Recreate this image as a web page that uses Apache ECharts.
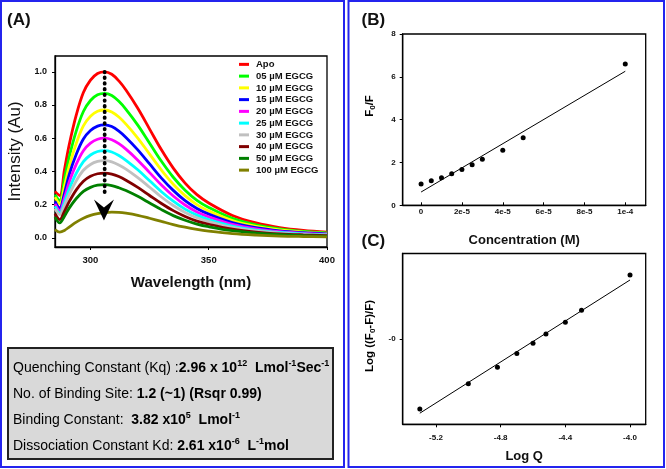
<!DOCTYPE html>
<html><head><meta charset="utf-8">
<script src="https://cdn.jsdelivr.net/npm/echarts@6/dist/echarts.min.js"></script>
<style>html,body{margin:0;padding:0;background:#fff}#c{width:666px;height:469px}</style>
</head><body><div id="c"></div>
<script>
// ---------- Panel A data ----------
const wavelengths = [285,287,289,291,294,297,300,303,306,309,312,315,320,325,330,335,340,345,350,360,370,380,390,400];
const seriesNames = ['Apo','05 µM EGCG','10 µM EGCG','15 µM EGCG','20 µM EGCG','25 µM EGCG','30 µM EGCG','40 µM EGCG','50 µM EGCG','100 µM EGCG'];
const seriesColors = ['#ff0000','#00ff00','#ffff00','#0000ff','#ff00ff','#00ffff','#c0c0c0','#800000','#008000','#808000'];
const apo      = [0.28,0.255,0.41,0.56,0.74,0.875,0.95,0.99,1.0,0.985,0.945,0.89,0.78,0.655,0.53,0.42,0.33,0.26,0.21,0.135,0.09,0.062,0.045,0.035];
const egcg05   = [0.26,0.225,0.355,0.487,0.644,0.761,0.827,0.861,0.87,0.857,0.822,0.774,0.679,0.570,0.461,0.365,0.287,0.226,0.183,0.117,0.078,0.054,0.039,0.030];
const egcg10   = [0.245,0.205,0.31,0.431,0.570,0.674,0.732,0.762,0.77,0.758,0.728,0.685,0.601,0.504,0.408,0.323,0.254,0.200,0.162,0.104,0.069,0.048,0.035,0.027];
const egcg15   = [0.22,0.18,0.27,0.381,0.503,0.595,0.646,0.673,0.68,0.670,0.643,0.605,0.530,0.445,0.360,0.286,0.224,0.177,0.143,0.092,0.061,0.042,0.031,0.024];
const egcg20   = [0.205,0.165,0.24,0.336,0.444,0.525,0.570,0.594,0.60,0.591,0.567,0.534,0.468,0.393,0.318,0.252,0.198,0.156,0.126,0.081,0.054,0.037,0.027,0.021];
const egcg25   = [0.19,0.15,0.215,0.294,0.389,0.459,0.499,0.520,0.525,0.517,0.496,0.467,0.410,0.344,0.278,0.221,0.173,0.137,0.110,0.071,0.047,0.033,0.024,0.018];
const egcg30   = [0.175,0.14,0.195,0.26,0.344,0.407,0.442,0.460,0.465,0.458,0.439,0.414,0.363,0.305,0.246,0.195,0.153,0.121,0.098,0.063,0.042,0.029,0.021,0.016];
const egcg40   = [0.145,0.11,0.16,0.218,0.289,0.341,0.371,0.386,0.39,0.384,0.369,0.347,0.304,0.255,0.207,0.164,0.129,0.101,0.082,0.053,0.035,0.024,0.018,0.014];
const egcg50   = [0.125,0.09,0.13,0.179,0.237,0.280,0.304,0.317,0.32,0.315,0.302,0.285,0.250,0.210,0.170,0.134,0.106,0.083,0.067,0.043,0.029,0.020,0.014,0.011];
const egcg100  = [0.05,0.035,0.045,0.065,0.095,0.118,0.135,0.146,0.152,0.155,0.154,0.149,0.136,0.118,0.099,0.080,0.064,0.051,0.041,0.026,0.017,0.011,0.008,0.006];
const intensitySeries = [apo,egcg05,egcg10,egcg15,egcg20,egcg25,egcg30,egcg40,egcg50,egcg100];
const arrowLine = [[306,1.0],[306,0.245]];
const arrowHead = [[305.7,0.168]];
const tickA_x = [300,350,400];
const tickA_y = [0,0.2,0.4,0.6,0.8,1.0];
const labelA_y = ['0.0','0.2','0.4','0.6','0.8','1.0'];

// ---------- Panel B data ----------
const concentrationM = [0,5e-6,1e-5,1.5e-5,2e-5,2.5e-5,3e-5,4e-5,5e-5,1e-4];
const f0OverF = [1.0,1.15,1.29,1.47,1.67,1.89,2.15,2.57,3.16,6.6];
const fitB_x = [0,1e-4];
const fitB_y = [0.62,6.26];
const tickB_x = [0,2e-5,4e-5,6e-5,8e-5,1e-4];
const labelB_x = ['0','2e-5','4e-5','6e-5','8e-5','1e-4'];
const tickB_y = [0,2,4,6,8];

// ---------- Panel C data ----------
const logQ = [-5.30,-5.00,-4.82,-4.70,-4.60,-4.52,-4.40,-4.30,-4.00];
const logRatio = [-0.822,-0.526,-0.331,-0.171,-0.051,0.058,0.195,0.335,0.748];
const fitC_x = [-5.3,-4.0];
const fitC_y = [-0.87,0.69];
const tickC_x = [-5.2,-4.8,-4.4,-4.0];
const labelC_x = ['-5.2','-4.8','-4.4','-4.0'];
const tickC_y = [0];
const labelC_y = ['-0'];

const FONT = 'Liberation Sans, Arial, sans-serif';
function lookup(ticks, labels){
  return function(v){ const i = ticks.findIndex(t => Math.abs(t - v) < 1e-9 * Math.max(1e-4, Math.abs(t))); return i >= 0 ? labels[i] : ''; };
}
function axisBase(extra){
  return Object.assign({
    type:'value', splitLine:{show:false},
    axisLine:{show:true, onZero:false, lineStyle:{color:'#000', width:1.3}},
    axisTick:{show:true, length:3, lineStyle:{color:'#000'}},
    axisLabel:{fontFamily:FONT, fontWeight:'bold', fontSize:8, color:'#111'}
  }, extra);
}

const series = [];
intensitySeries.forEach((arr, k) => {
  series.push({
    type:'line', name:seriesNames[k], xAxisIndex:0, yAxisIndex:0,
    data: wavelengths.map((w,i)=>[w, arr[i]]),
    smooth:0.35, showSymbol:false, symbol:'none', color:seriesColors[k],
    lineStyle:{width:2.8, color:seriesColors[k]}, z:2
  });
});
series.push({type:'line', xAxisIndex:0, yAxisIndex:0, data:arrowLine, symbol:'none', silent:true,
  lineStyle:{color:'#000', width:3.8, type:[0.5,5.2], cap:'round'}, z:5});
series.push({type:'scatter', xAxisIndex:0, yAxisIndex:0, data:arrowHead, silent:true,
  symbol:'path://M0,0 L10,8 L20,0 L10,21 Z', symbolSize:[20,21], itemStyle:{color:'#000', opacity:1}, z:6});
// Panel B
series.push({type:'line', xAxisIndex:1, yAxisIndex:1, data:fitB_x.map((x,i)=>[x,fitB_y[i]]), symbol:'none',
  lineStyle:{color:'#000', width:1}, z:3});
series.push({type:'scatter', xAxisIndex:1, yAxisIndex:1, data:concentrationM.map((x,i)=>[x,f0OverF[i]]),
  symbolSize:5, itemStyle:{color:'#000', opacity:1}, z:4});
// Panel C
series.push({type:'line', xAxisIndex:2, yAxisIndex:2, data:fitC_x.map((x,i)=>[x,fitC_y[i]]), symbol:'none',
  lineStyle:{color:'#000', width:1}, z:3});
series.push({type:'scatter', xAxisIndex:2, yAxisIndex:2, data:logQ.map((x,i)=>[x,logRatio[i]]),
  symbolSize:5, itemStyle:{color:'#000', opacity:1}, z:4});

const richBox = {
  n:{fontFamily:FONT, fontSize:14, color:'#111', lineHeight:17},
  b:{fontFamily:FONT, fontSize:14, fontWeight:'bold', color:'#111', lineHeight:17},
  s:{fontFamily:FONT, fontSize:9, fontWeight:'bold', color:'#111', lineHeight:9.4, verticalAlign:'top'}
};
const richName = {
  t:{fontFamily:FONT, fontSize:11.5, fontWeight:'bold', color:'#111', lineHeight:14},
  u:{fontFamily:FONT, fontSize:8, fontWeight:'bold', color:'#111', lineHeight:8, verticalAlign:'bottom'}
};
function boxText(y, text){
  return {type:'text', x:13, y:y, z:20, style:{text:text, rich:richBox, verticalAlign:'middle', align:'left'}};
}

const option = {
  animation:false,
  backgroundColor:'#fff',
  textStyle:{fontFamily:FONT},
  grid:[
    {left:55, top:56, width:272, height:191, show:true, borderColor:'#000', borderWidth:1.3, backgroundColor:'transparent'},
    {left:402.7, top:34, width:243, height:171.3, show:true, borderColor:'#000', borderWidth:1.3, backgroundColor:'transparent'},
    {left:402.7, top:253.5, width:243, height:170.8, show:true, borderColor:'#000', borderWidth:1.3, backgroundColor:'transparent'}
  ],
  xAxis:[
    axisBase({gridIndex:0, min:285, max:400,
      axisTick:{show:true, length:3, customValues:tickA_x, lineStyle:{color:'#000'}},
      axisLabel:{customValues:tickA_x, margin:8, fontFamily:FONT, fontWeight:'bold', fontSize:9.5, color:'#111'},
      name:'Wavelength (nm)', nameLocation:'middle', nameGap:28,
      nameTextStyle:{fontFamily:FONT, fontWeight:'bold', fontSize:15, color:'#111'}}),
    axisBase({gridIndex:1, min:-0.9e-5, max:1.1e-4,
      axisTick:{show:true, inside:true, length:3, customValues:tickB_x, lineStyle:{color:'#000'}},
      axisLabel:{customValues:tickB_x, margin:2, formatter:lookup(tickB_x,labelB_x), fontFamily:FONT, fontWeight:'bold', fontSize:8, color:'#111'},
      name:'Concentration (M)', nameLocation:'middle', nameGap:29,
      nameTextStyle:{fontFamily:FONT, fontWeight:'bold', fontSize:13, color:'#111'}}),
    axisBase({gridIndex:2, min:-5.406, max:-3.903,
      axisTick:{show:true, length:3, customValues:tickC_x, lineStyle:{color:'#000'}},
      axisLabel:{customValues:tickC_x, margin:9, formatter:lookup(tickC_x,labelC_x), fontFamily:FONT, fontWeight:'bold', fontSize:8, color:'#111'},
      name:'Log Q', nameLocation:'middle', nameGap:26,
      nameTextStyle:{fontFamily:FONT, fontWeight:'bold', fontSize:13, color:'#111'}})
  ],
  yAxis:[
    axisBase({gridIndex:0, min:-0.055, max:1.095,
      axisTick:{show:true, length:3, customValues:tickA_y, lineStyle:{color:'#000'}},
      axisLabel:{customValues:tickA_y, margin:8, formatter:lookup(tickA_y,labelA_y), fontFamily:FONT, fontWeight:'bold', fontSize:9, color:'#111'},
      name:'Intensity (Au)', nameLocation:'middle', nameGap:31,
      nameTextStyle:{fontFamily:FONT, fontSize:17, color:'#111'}}),
    axisBase({gridIndex:1, min:0, max:8,
      axisTick:{show:true, length:3, customValues:tickB_y, lineStyle:{color:'#000'}},
      axisLabel:{customValues:tickB_y, margin:7, fontFamily:FONT, fontWeight:'bold', fontSize:8, color:'#111'}}),
    axisBase({gridIndex:2, min:-1, max:1,
      axisTick:{show:true, length:3, customValues:tickC_y, lineStyle:{color:'#000'}},
      axisLabel:{customValues:tickC_y, margin:7, formatter:lookup(tickC_y,labelC_y), fontFamily:FONT, fontWeight:'bold', fontSize:8, color:'#111'}})
  ],
  legend:{
    data:seriesNames, orient:'vertical', left:239, top:58.5, padding:0, itemGap:0,
    icon:'rect', itemWidth:10, itemHeight:3, selectedMode:false,
    textStyle:{fontFamily:FONT, fontWeight:'bold', fontSize:9.5, color:'#111', lineHeight:11.75, padding:[0,0,0,2]}
  },
  graphic:[
    {type:'rect', shape:{x:1, y:1, width:343, height:466}, style:{fill:'none', stroke:'#2424ee', lineWidth:2}, z:10},
    {type:'rect', shape:{x:348.5, y:1, width:315.5, height:466}, style:{fill:'none', stroke:'#2424ee', lineWidth:2}, z:10},
    {type:'text', x:7, y:20, style:{text:'(A)', fontFamily:FONT, fontWeight:'bold', fontSize:17, fill:'#111', verticalAlign:'middle'}, z:10},
    {type:'text', x:361.5, y:20, style:{text:'(B)', fontFamily:FONT, fontWeight:'bold', fontSize:17, fill:'#111', verticalAlign:'middle'}, z:10},
    {type:'text', x:361.5, y:241, style:{text:'(C)', fontFamily:FONT, fontWeight:'bold', fontSize:17, fill:'#111', verticalAlign:'middle'}, z:10},
    {type:'text', x:370, y:106, rotation:Math.PI/2, z:10,
      style:{text:'{t|F}{u|0}{t|/F}', rich:richName, align:'center', verticalAlign:'middle'}},
    {type:'text', x:370, y:336, rotation:Math.PI/2, z:10,
      style:{text:'{t|Log ((F}{u|0}{t|-F)/F)}', rich:richName, align:'center', verticalAlign:'middle'}},
    {type:'rect', shape:{x:8, y:348, width:325, height:111}, style:{fill:'#d9d9d9', stroke:'#222', lineWidth:2}, z:15},
    boxText(368, '{n|Quenching Constant (Kq) :}{b|2.96 x 10}{s|12}{b|  Lmol}{s|-1}{b|Sec}{s|-1}'),
    boxText(394, '{n|No. of Binding Site: }{b|1.2 (~1) (Rsqr 0.99)}'),
    boxText(420, '{n|Binding Constant:  }{b|3.82 x10}{s|5}{b|  Lmol}{s|-1}'),
    boxText(446, '{n|Dissociation Constant Kd: }{b|2.61 x10}{s|-6}{b|  L}{s|-1}{b|mol}')
  ],
  series:series
};
const chart = echarts.init(document.getElementById('c'), null, {renderer:'canvas'});
chart.setOption(option);
</script>
</body></html>
